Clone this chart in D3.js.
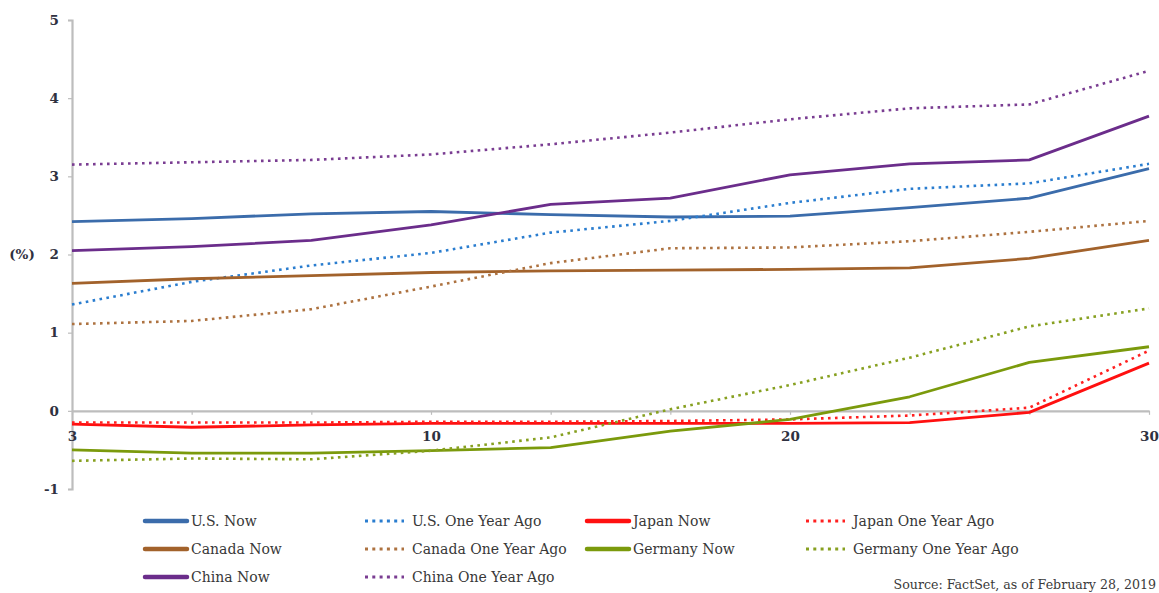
<!DOCTYPE html>
<html>
<head>
<meta charset="utf-8">
<script src="https://cdn.jsdelivr.net/npm/d3@7"></script>
<style>
  html, body { margin: 0; padding: 0; background: #fff; }
  svg { display: block; }
</style>
</head>
<body>
<svg id="chart" width="1159" height="593"></svg>
<script>
// Maturities (years); only every third one is labelled on the axis
const maturities = ["3", "5", "7", "10", "12", "15", "20", "25", "27", "30"];
const yTicks = [-1, 0, 1, 2, 3, 4, 5];

// Government bond yields (%)
const usNow        = [2.42, 2.46, 2.52, 2.55, 2.51, 2.48, 2.49, 2.60, 2.72, 3.10];
const usYearAgo    = [1.36, 1.65, 1.86, 2.02, 2.28, 2.43, 2.66, 2.84, 2.91, 3.16];
const japanNow     = [-0.17, -0.21, -0.18, -0.16, -0.16, -0.16, -0.16, -0.15, -0.02, 0.61];
const japanYearAgo = [-0.15, -0.15, -0.15, -0.14, -0.14, -0.13, -0.11, -0.06, 0.04, 0.77];
const canadaNow     = [1.63, 1.69, 1.73, 1.77, 1.79, 1.80, 1.81, 1.83, 1.95, 2.18];
const canadaYearAgo = [1.11, 1.15, 1.30, 1.59, 1.89, 2.08, 2.09, 2.17, 2.29, 2.43];
const germanyNow     = [-0.50, -0.54, -0.54, -0.51, -0.47, -0.26, -0.11, 0.18, 0.62, 0.82];
const germanyYearAgo = [-0.64, -0.61, -0.62, -0.51, -0.34, 0.02, 0.33, 0.68, 1.08, 1.31];
const chinaNow     = [2.05, 2.10, 2.18, 2.38, 2.64, 2.72, 3.02, 3.16, 3.21, 3.77];
const chinaYearAgo = [3.15, 3.18, 3.21, 3.28, 3.41, 3.56, 3.73, 3.87, 3.92, 4.35];

const series = [
  { name: "U.S. Now",               values: usNow,          color: "#3b6cab", dotted: false },
  { name: "U.S. One Year Ago",      values: usYearAgo,      color: "#2a7dcf", dotted: true  },
  { name: "Japan Now",              values: japanNow,       color: "#ff1010", dotted: false },
  { name: "Japan One Year Ago",     values: japanYearAgo,   color: "#ff2020", dotted: true  },
  { name: "Canada Now",             values: canadaNow,      color: "#a2622b", dotted: false },
  { name: "Canada One Year Ago",    values: canadaYearAgo,  color: "#ad7240", dotted: true  },
  { name: "Germany Now",            values: germanyNow,     color: "#7b9a0c", dotted: false },
  { name: "Germany One Year Ago",   values: germanyYearAgo, color: "#87a020", dotted: true  },
  { name: "China Now",              values: chinaNow,       color: "#6b2d8b", dotted: false },
  { name: "China One Year Ago",     values: chinaYearAgo,   color: "#7a3d92", dotted: true  }
];

const svg = d3.select("#chart");
const serif = "'DejaVu Serif', 'Liberation Serif', serif";
const axisGrey = "#bdbdbd";
const textColor = "#2f3140";

const x = d3.scalePoint().domain(maturities).range([72, 1149]);
const y = d3.scaleLinear().domain([-1, 5]).range([489, 20]);

// Y axis
const yAxis = svg.append("g")
  .attr("transform", `translate(${x.range()[0]},0)`)
  .call(d3.axisLeft(y).tickValues(yTicks).tickSize(4).tickPadding(9).tickFormat(d => String(d)));
yAxis.select(".domain").attr("stroke", axisGrey).attr("stroke-width", 2.2);
yAxis.selectAll(".tick line").attr("stroke", axisGrey).attr("stroke-width", 1.2);
yAxis.selectAll(".tick text")
  .attr("font-family", serif).attr("font-weight", "bold").attr("font-size", 13.5)
  .attr("fill", textColor);

// Unit label
svg.append("text")
  .attr("x", 22).attr("y", y(2)).attr("dy", "0.35em")
  .attr("text-anchor", "middle")
  .attr("font-family", serif).attr("font-weight", "bold").attr("font-size", 13.5)
  .attr("fill", textColor)
  .text("(%)");

// X axis along the zero line
const xAxis = svg.append("g")
  .attr("transform", `translate(0,${y(0)})`)
  .call(d3.axisBottom(x).tickSize(4).tickSizeOuter(0).tickPadding(17)
    .tickFormat((d, i) => i % 3 === 0 ? d : ""));
xAxis.select(".domain").attr("stroke", axisGrey).attr("stroke-width", 2.2);
xAxis.selectAll(".tick line").attr("stroke", axisGrey).attr("stroke-width", 1.2);
xAxis.selectAll(".tick text")
  .attr("font-family", serif).attr("font-weight", "bold").attr("font-size", 13.5)
  .attr("fill", textColor);

// Yield curves
const line = d3.line()
  .x((d, i) => x(maturities[i]))
  .y(d => y(d));

svg.append("g").selectAll("path")
  .data(series)
  .join("path")
  .attr("d", s => line(s.values))
  .attr("fill", "none")
  .attr("stroke", s => s.color)
  .attr("stroke-width", s => s.dotted ? 2.6 : 2.8)
  .attr("stroke-dasharray", s => s.dotted ? "2.6,4.4" : null)
  .attr("stroke-linejoin", "round");

// Legend: four columns, filled row by row
const legendCols = [145, 365, 587, 806];
const legendRows = [521, 549, 577];
const legend = svg.append("g");
series.forEach((s, i) => {
  const col = i % 4;
  const row = Math.floor(i / 4);
  const g = legend.append("g")
    .attr("transform", `translate(${legendCols[col]},${legendRows[row]})`);
  if (s.dotted) {
    g.append("line")
      .attr("x1", 0).attr("x2", 39).attr("y1", 0).attr("y2", 0)
      .attr("stroke", s.color).attr("stroke-width", 3)
      .attr("stroke-dasharray", "3,4.3");
  } else {
    g.append("line")
      .attr("x1", 0).attr("x2", 42).attr("y1", 0).attr("y2", 0)
      .attr("stroke", s.color).attr("stroke-width", 4.5)
      .attr("stroke-linecap", "round");
  }
  g.append("text")
    .attr("x", s.dotted ? 47 : 46).attr("y", 0).attr("dy", "0.35em")
    .attr("font-family", serif).attr("font-size", 14)
    .attr("fill", "#383838")
    .text(s.name);
});

// Source note, kept inside the right and bottom edges
svg.append("text")
  .attr("x", 1156).attr("y", 589)
  .attr("text-anchor", "end")
  .attr("font-family", serif).attr("font-size", 12.6)
  .attr("fill", "#3a3a3a")
  .text("Source: FactSet, as of February 28, 2019");
</script>
</body>
</html>
